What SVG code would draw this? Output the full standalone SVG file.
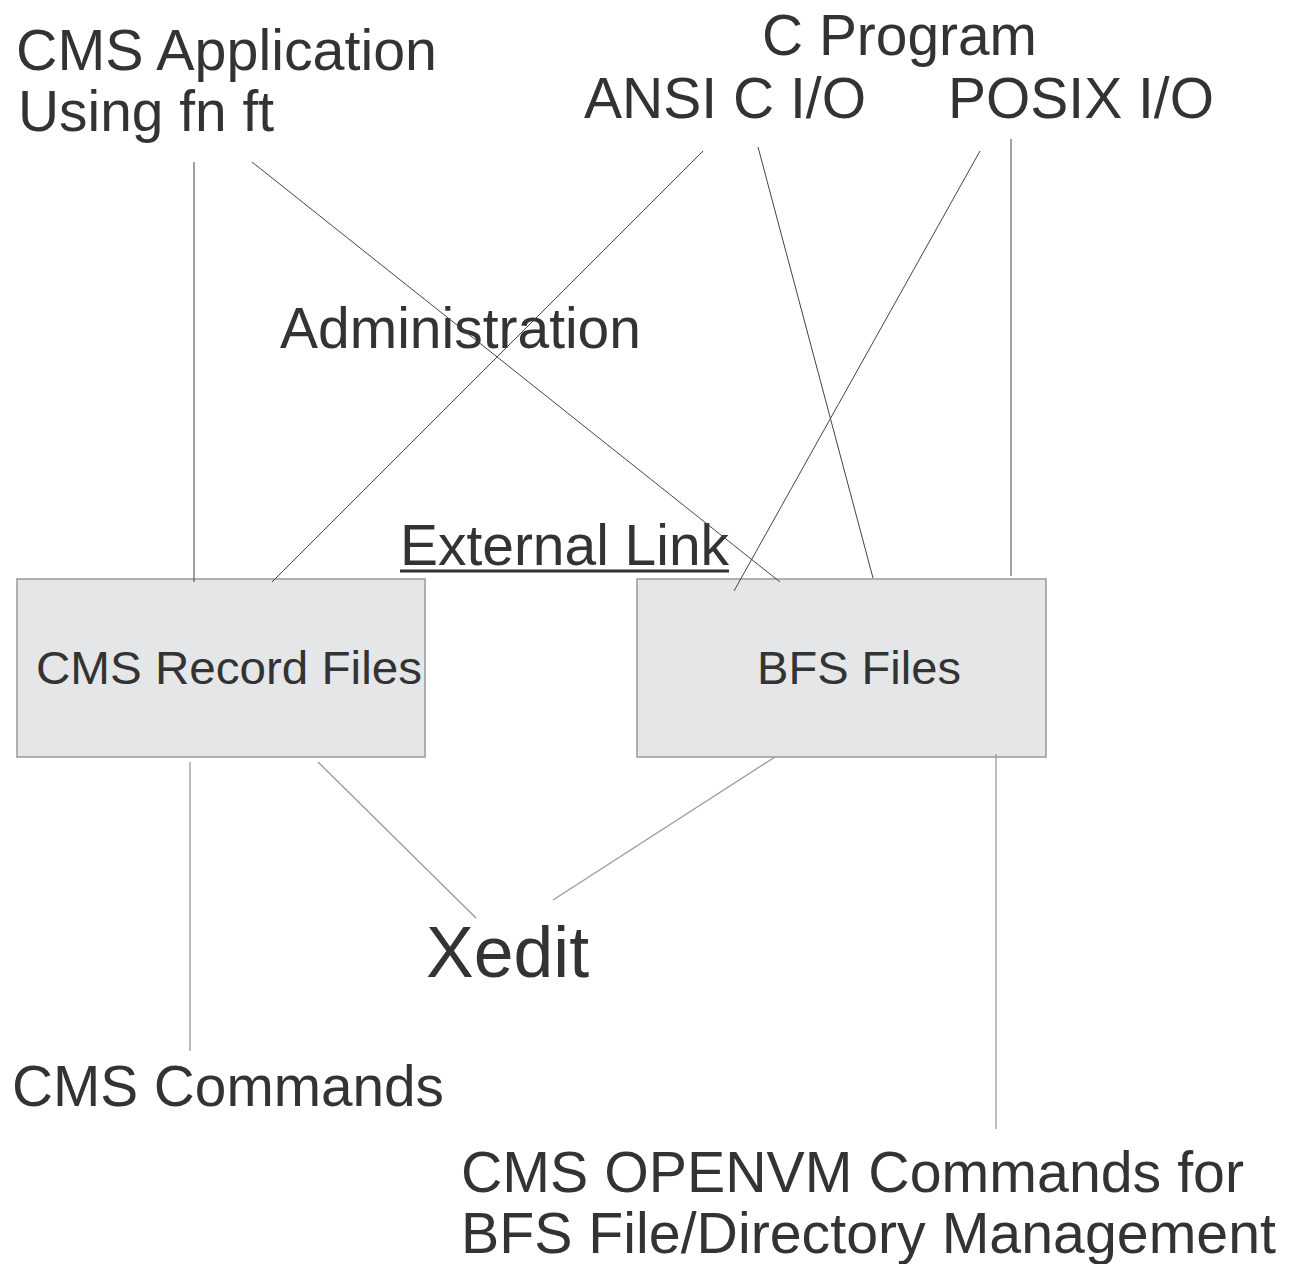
<svg xmlns="http://www.w3.org/2000/svg" width="1294" height="1264" viewBox="0 0 1294 1264">
<style>
text{font-family:"Liberation Sans",Arial,sans-serif;fill:#333}
.big{font-size:58px}
.box{fill:#e5e6e8;stroke:#999;stroke-width:1.5}
.bt{font-size:47px}
.c1{stroke:#444;stroke-width:1;fill:none}
.c2{stroke:#999;stroke-width:1.3;fill:none}
</style>
<rect width="1294" height="1264" fill="#fff"/>
<g id="cms-app"><text class="big" x="16" y="70" textLength="421" lengthAdjust="spacingAndGlyphs">CMS Application</text><text class="big" x="18" y="131" textLength="256" lengthAdjust="spacingAndGlyphs">Using fn ft</text></g>
<g id="c-program"><text class="big" x="762" y="55" textLength="275" lengthAdjust="spacingAndGlyphs">C Program</text></g>
<g id="ansi"><text class="big" x="584" y="118" textLength="282" lengthAdjust="spacingAndGlyphs">ANSI C I/O</text></g>
<g id="posix"><text class="big" x="948" y="118" textLength="266" lengthAdjust="spacingAndGlyphs">POSIX I/O</text></g>
<g id="administration"><text class="big" x="280" y="348" textLength="361" lengthAdjust="spacingAndGlyphs">Administration</text></g>
<g id="external-link"><text class="big" x="400" y="565" textLength="329" lengthAdjust="spacingAndGlyphs">External Link</text><line x1="400" y1="571" x2="729" y2="571" stroke="#333" stroke-width="3"/></g>
<g id="cms-record"><rect class="box" x="17" y="579" width="408" height="178"/><text class="bt" x="36" y="684" textLength="386" lengthAdjust="spacingAndGlyphs">CMS Record Files</text></g>
<g id="bfs"><rect class="box" x="637" y="579" width="409" height="178"/><text class="bt" x="757" y="684" textLength="204" lengthAdjust="spacingAndGlyphs">BFS Files</text></g>
<g id="xedit"><text x="426" y="977" font-size="72" textLength="163" lengthAdjust="spacingAndGlyphs">Xedit</text></g>
<g id="cms-commands"><text class="big" x="12" y="1106" textLength="432" lengthAdjust="spacingAndGlyphs">CMS Commands</text></g>
<g id="openvm"><text class="big" x="461" y="1192" textLength="783" lengthAdjust="spacingAndGlyphs">CMS OPENVM Commands for</text><text class="big" x="461" y="1253" textLength="815" lengthAdjust="spacingAndGlyphs">BFS File/Directory Management</text></g>
<g id="connectors">
<line class="c1" x1="194" y1="162" x2="194" y2="582"/>
<line class="c1" x1="252" y1="162" x2="780" y2="582"/>
<line class="c1" x1="703" y1="151" x2="272" y2="582"/>
<line class="c1" x1="758" y1="147" x2="873" y2="578"/>
<line class="c1" x1="980" y1="151" x2="734" y2="591"/>
<line class="c1" x1="1011" y1="139" x2="1011" y2="576"/>
<line class="c2" x1="190" y1="762" x2="190" y2="1051"/>
<line class="c2" x1="318" y1="762" x2="476" y2="918"/>
<line class="c2" x1="775" y1="757" x2="553" y2="900"/>
<line class="c2" x1="996" y1="754" x2="996" y2="1129"/>
</g>
</svg>
